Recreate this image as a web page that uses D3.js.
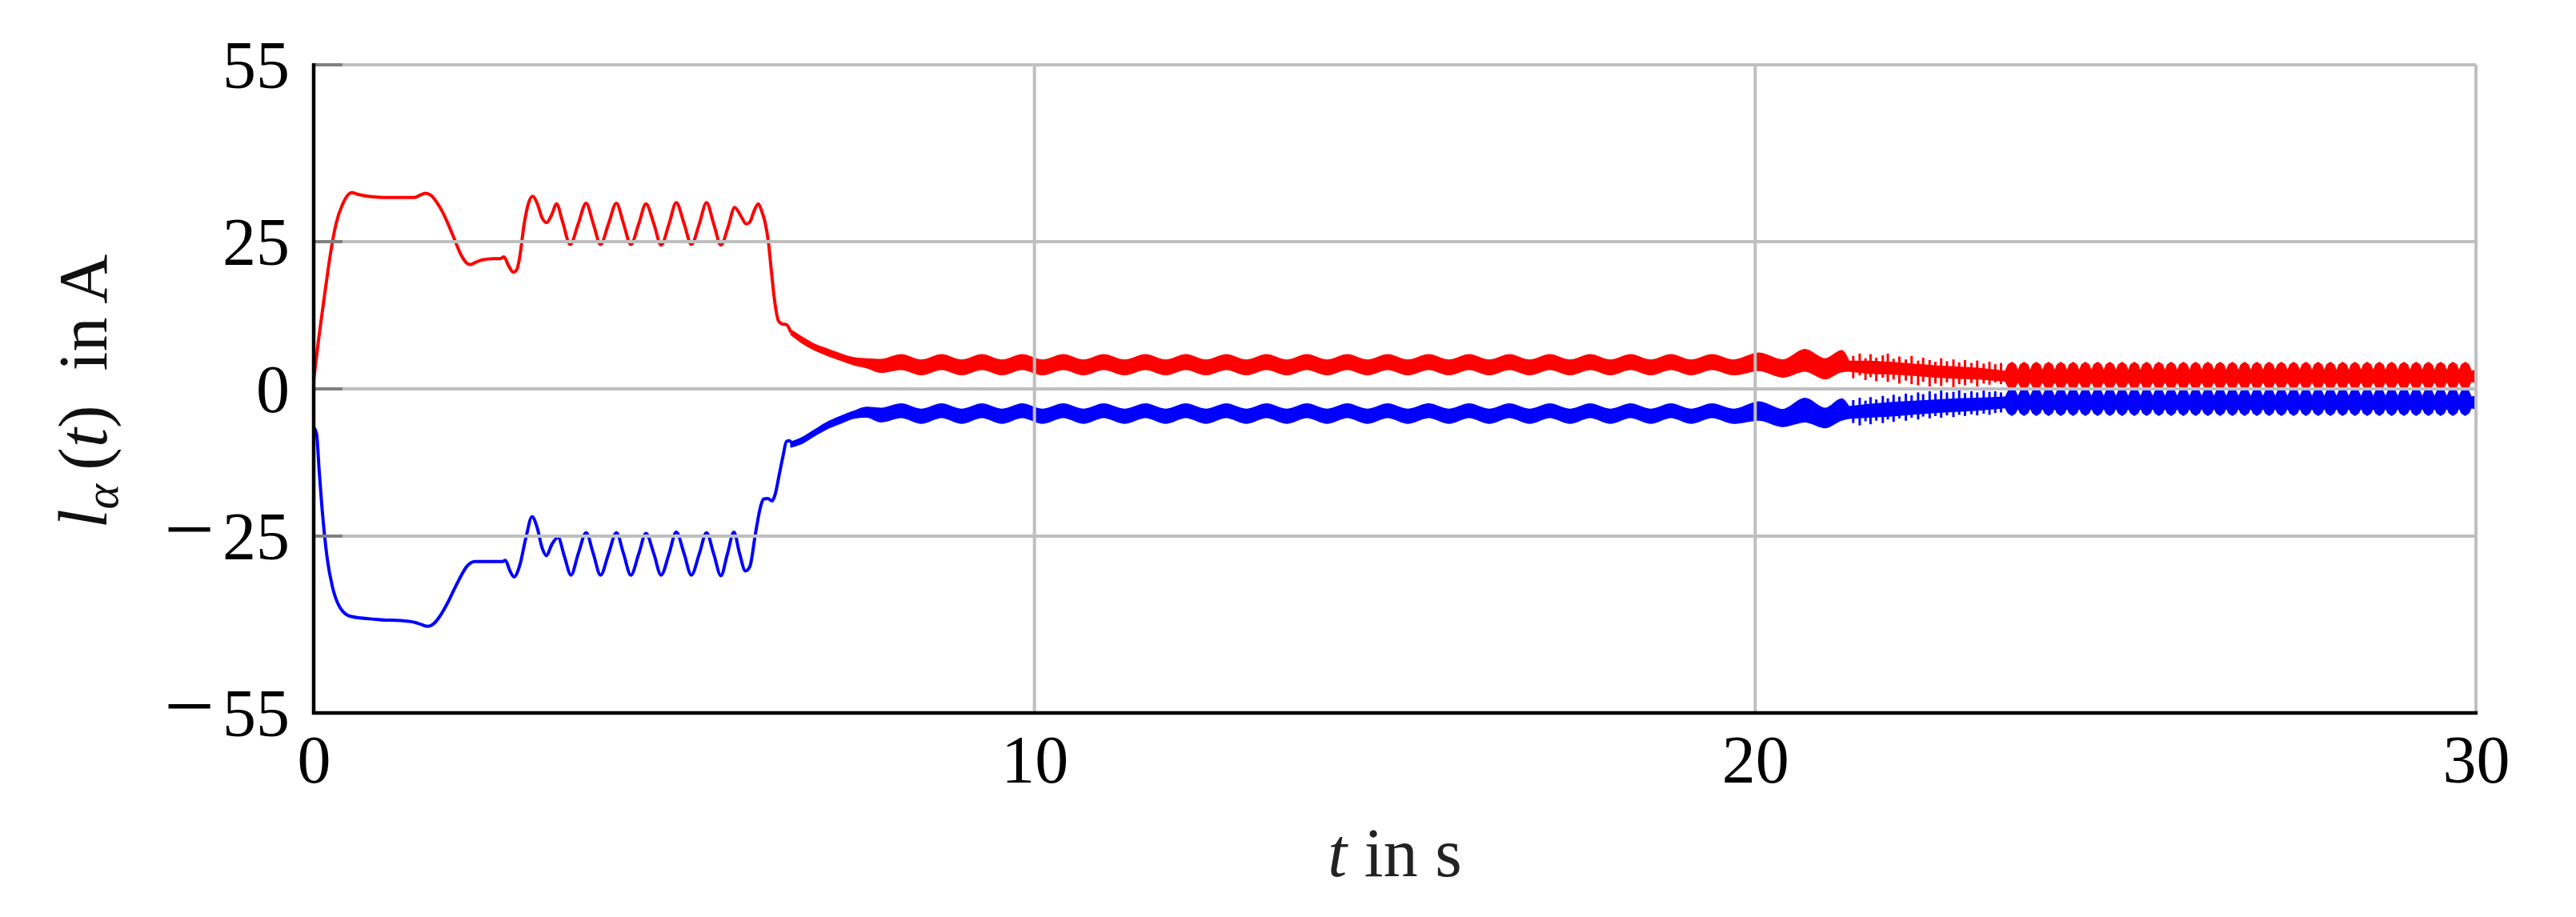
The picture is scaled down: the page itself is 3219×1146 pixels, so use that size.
<!DOCTYPE html>
<html><head><meta charset="utf-8">
<script src="https://cdn.jsdelivr.net/npm/d3@7"></script>
<style>body{margin:0;background:#fff}svg{display:block}</style>
</head><body>
<svg id="chart" width="3219" height="1146"></svg>
<script>
// ---------- tick values ----------
const xTicks = [0, 10, 20, 30];
const yTicks = [-55, -25, 0, 25, 55];

// ---------- smooth start ----------
const redT = [0.00,0.065,0.114,0.164,0.24,0.31,0.41,0.53,0.62,0.75,0.96,1.20,1.40,1.48,1.55,1.62,1.70,1.78,1.85,1.95,2.05,2.12,2.17,2.25,2.34,2.50,2.59,2.64,2.70,2.77,2.82,2.86,2.92,2.98,3.04,3.10,3.17,3.23,3.30,3.37,3.45,3.56,3.67,3.78,3.88,3.98,4.09,4.20,4.30,4.40,4.51,4.61,4.72,4.82,4.93,5.03,5.14,5.24,5.35,5.45,5.55,5.65,5.75,5.84,5.92,6.00,6.05,6.11,6.17,6.22,6.26,6.31,6.35,6.40,6.45,6.50,6.56,6.62];
const redV = [1.5,8.1,12.6,17.1,23.5,28.0,31.6,33.3,33.0,32.7,32.5,32.5,32.5,32.9,33.2,32.9,31.8,30.2,28.4,25.5,22.6,21.4,21.1,21.5,21.9,22.1,22.1,22.4,21.0,19.8,20.3,22.5,28.0,31.5,32.7,31.5,29.0,28.2,29.5,31.4,28.5,24.5,28.0,31.5,28.0,24.5,28.0,31.5,28.0,24.5,28.0,31.4,28.0,24.4,28.0,31.6,28.0,24.5,28.0,31.6,28.0,24.4,27.5,30.8,29.5,28.0,28.3,30.2,31.4,30.0,28.4,24.8,20.0,14.5,11.5,11.0,10.9,9.6];

const blueT = [0.00,0.04,0.075,0.114,0.19,0.26,0.36,0.51,0.85,1.35,1.45,1.58,1.66,1.75,1.85,1.95,2.05,2.12,2.24,2.62,2.66,2.72,2.78,2.86,2.94,3.03,3.10,3.17,3.23,3.30,3.39,3.48,3.57,3.67,3.78,3.88,3.98,4.09,4.20,4.30,4.40,4.51,4.61,4.72,4.82,4.93,5.03,5.14,5.24,5.35,5.45,5.55,5.65,5.74,5.83,5.91,5.99,6.05,6.13,6.20,6.24,6.30,6.36,6.40,6.46,6.51,6.56,6.60,6.65];
const blueV = [-6.5,-7.6,-13.7,-20.0,-29.0,-33.6,-37.0,-38.6,-39.1,-39.5,-39.8,-40.3,-39.9,-38.6,-36.5,-34.0,-31.6,-30.2,-29.3,-29.3,-29.1,-30.8,-31.9,-29.9,-25.5,-21.7,-23.5,-27.0,-28.3,-26.5,-25.2,-28.5,-31.6,-28.0,-24.4,-28.0,-31.6,-28.0,-24.4,-28.0,-31.6,-28.0,-24.5,-28.0,-31.6,-28.0,-24.3,-28.0,-31.6,-28.0,-24.4,-28.0,-31.7,-28.0,-24.3,-28.0,-30.9,-30.2,-24.5,-20.0,-18.7,-18.6,-19.0,-18.0,-14.5,-11.5,-8.9,-8.8,-9.6];

// ---------- dense oscillation, part 1: slow-wave envelope (t 6.62 .. 21.30) ----------
const waveT = [6.62,6.75,6.93,7.12,7.30,7.49,7.67,7.87,
 8.15,8.43,8.71,8.99,9.27,9.55,9.83,10.11,10.40,10.68,10.96,11.25,11.54,11.82,12.10,12.38,12.66,12.94,13.22,13.50,13.78,14.06,14.34,14.62,14.90,15.18,15.47,15.75,16.03,16.31,16.59,16.87,17.15,17.43,17.71,17.99,18.27,18.55,18.83,19.11,19.40,19.70,
 20.05,20.38,20.69,20.97,21.20,21.30];
const waveRedLo = [9.2,8.0,6.7,5.7,4.9,4.1,3.6,2.8,
 3.3,2.4,3.3,2.4,3.3,2.4,3.3,2.4,3.3,2.4,3.3,2.4,3.3,2.4,3.3,2.4,3.3,2.4,3.3,2.4,3.3,2.4,3.3,2.4,3.3,2.4,3.3,2.4,3.3,2.4,3.3,2.4,3.3,2.4,3.3,2.4,3.3,2.4,3.3,2.4,3.3,2.4,
 3.1,2.0,3.0,1.7,2.9,3.0];
const waveRedHi = [10.0,9.0,7.7,6.8,6.0,5.3,5.1,5.0,
 5.8,4.9,5.8,4.9,5.8,4.9,5.8,4.9,5.8,4.9,5.8,4.9,5.8,4.9,5.8,4.9,5.8,4.9,5.8,4.9,5.8,4.9,5.8,4.9,5.8,4.9,5.8,4.9,5.8,4.9,5.8,4.9,5.8,4.9,5.8,4.9,5.8,4.9,5.8,4.9,5.8,4.9,
 6.1,4.9,6.7,5.1,6.5,4.7];
const waveBlueLo = [-9.9,-9.4,-8.1,-6.8,-5.9,-5.0,-4.8,-5.6,
 -4.85,-5.85,-4.85,-5.85,-4.85,-5.85,-4.85,-5.85,-4.85,-5.85,-4.85,-5.85,-4.85,-5.85,-4.85,-5.85,-4.85,-5.85,-4.85,-5.85,-4.85,-5.85,-4.85,-5.85,-4.85,-5.85,-4.85,-5.85,-4.85,-5.85,-4.85,-5.85,-4.85,-5.85,-4.85,-5.85,-4.85,-5.85,-4.85,-5.85,-4.85,-5.85,
 -5.3,-6.4,-5.6,-6.6,-5.3,-5.0];
const waveBlueHi = [-9.0,-8.4,-7.1,-5.7,-4.7,-3.8,-3.1,-3.3,
 -2.55,-3.45,-2.55,-3.45,-2.55,-3.45,-2.55,-3.45,-2.55,-3.45,-2.55,-3.45,-2.55,-3.45,-2.55,-3.45,-2.55,-3.45,-2.55,-3.45,-2.55,-3.45,-2.55,-3.45,-2.55,-3.45,-2.55,-3.45,-2.55,-3.45,-2.55,-3.45,-2.55,-3.45,-2.55,-3.45,-2.55,-3.45,-2.55,-3.45,-2.55,-3.45,
 -2.2,-3.5,-1.6,-3.3,-1.7,-3.0];

// ---------- part 2: irregular section (t 21.30 .. 23.47): core band + single spikes ----------
const coreT = [21.30,21.60,21.90,22.20,22.50,22.80,23.10,23.47];
const coreRedLo = [3.0,2.6,2.5,2.3,2.0,1.8,1.7,1.3];
const coreRedHi = [4.7,4.7,4.5,4.2,3.9,3.7,3.5,3.0];
const coreBlueLo = [-5.0,-4.8,-4.6,-4.3,-4.0,-3.8,-3.6,-3.2];
const coreBlueHi = [-3.0,-2.6,-2.3,-2.1,-1.9,-1.7,-1.6,-1.4];

const spikeT = [21.36,21.45,21.53,21.60,21.68,21.77,21.84,21.92,22.00,22.09,22.17,22.26,22.33,22.42,22.50,22.58,22.66,22.75,22.83,22.91,23.00,23.08,23.17,23.25,23.33,23.41];
const spikeRedHi = [5.6,6.0,5.2,5.9,5.3,5.7,6.0,5.1,5.5,5.0,5.6,4.8,5.3,4.9,4.6,5.2,4.7,5.0,4.5,4.9,4.4,4.8,4.3,4.6,4.2,4.4];
const spikeRedLo = [1.8,2.3,1.5,2.0,1.3,1.9,1.2,1.6,0.9,1.4,0.8,0.6,1.2,0.4,0.9,0.5,1.1,0.3,0.8,0.6,1.0,0.4,0.9,0.7,1.1,0.8];
const spikeBlueHi = [-1.9,-1.5,-2.0,-1.4,-1.8,-1.2,-1.6,-1.0,-1.3,-0.8,-1.1,-0.6,-0.9,-0.4,-0.8,-0.3,-0.6,-0.5,-0.2,-0.7,-0.4,-0.6,-0.3,-0.5,-0.4,-0.6];
const spikeBlueLo = [-5.8,-6.2,-5.5,-6.0,-5.4,-5.8,-5.2,-5.6,-5.0,-5.4,-4.9,-5.2,-4.7,-5.0,-4.6,-4.9,-4.5,-4.8,-4.4,-4.6,-4.3,-4.5,-4.2,-4.4,-4.1,-4.0];

// ---------- part 3: beat "teeth" (t 23.47 .. 30) ----------
const tailT = [23.47,
 23.51,23.56,23.61,23.645, 23.68,23.73,23.78,23.815, 23.85,23.90,23.95,23.985, 24.02,24.07,24.12,24.155, 24.19,24.24,24.29,24.325,
 24.36,24.41,24.46,24.495, 24.53,24.58,24.63,24.665, 24.70,24.75,24.80,24.835, 24.87,24.92,24.97,25.005, 25.04,25.09,25.14,25.175,
 25.21,25.26,25.31,25.345, 25.38,25.43,25.48,25.515, 25.55,25.60,25.65,25.685, 25.72,25.77,25.82,25.855, 25.89,25.94,25.99,26.025,
 26.06,26.11,26.16,26.195, 26.23,26.28,26.33,26.365, 26.40,26.45,26.50,26.535, 26.57,26.62,26.67,26.705, 26.74,26.79,26.84,26.875,
 26.91,26.96,27.01,27.045, 27.08,27.13,27.18,27.215, 27.25,27.30,27.35,27.385, 27.42,27.47,27.52,27.555, 27.59,27.64,27.69,27.725,
 27.76,27.81,27.86,27.895, 27.93,27.98,28.03,28.065, 28.10,28.15,28.20,28.235, 28.27,28.32,28.37,28.405, 28.44,28.49,28.54,28.575,
 28.61,28.66,28.71,28.745, 28.78,28.83,28.88,28.915, 28.95,29.00,29.05,29.085, 29.12,29.17,29.22,29.255, 29.29,29.34,29.39,29.425,
 29.46,29.51,29.56,29.595, 29.63,29.68,29.73,29.765, 29.80,29.85,29.90,29.935,
 30.0];
const tailRedLo = [1.3,
 0.4,0.0,0.4,1.3, 0.4,0.0,0.4,1.3, 0.4,0.0,0.4,1.3, 0.4,0.0,0.4,1.3, 0.4,0.0,0.4,1.3,
 0.4,0.0,0.4,1.3, 0.4,0.0,0.4,1.3, 0.4,0.0,0.4,1.3, 0.4,0.0,0.4,1.3, 0.4,0.0,0.4,1.3,
 0.4,0.0,0.4,1.3, 0.4,0.0,0.4,1.3, 0.4,0.0,0.4,1.3, 0.4,0.0,0.4,1.3, 0.4,0.0,0.4,1.3,
 0.4,0.0,0.4,1.3, 0.4,0.0,0.4,1.3, 0.4,0.0,0.4,1.3, 0.4,0.0,0.4,1.3, 0.4,0.0,0.4,1.3,
 0.4,0.0,0.4,1.3, 0.4,0.0,0.4,1.3, 0.4,0.0,0.4,1.3, 0.4,0.0,0.4,1.3, 0.4,0.0,0.4,1.3,
 0.4,0.0,0.4,1.3, 0.4,0.0,0.4,1.3, 0.4,0.0,0.4,1.3, 0.4,0.0,0.4,1.3, 0.4,0.0,0.4,1.3,
 0.4,0.0,0.4,1.3, 0.4,0.0,0.4,1.3, 0.4,0.0,0.4,1.3, 0.4,0.0,0.4,1.3, 0.4,0.0,0.4,1.3,
 0.4,0.0,0.4,1.3, 0.4,0.0,0.4,1.3, 0.4,0.0,0.4,1.3,
 1.0];
const tailRedHi = [3.0,
 4.1,4.5,4.1,3.0, 4.1,4.5,4.1,3.0, 4.1,4.5,4.1,3.0, 4.1,4.5,4.1,3.0, 4.1,4.5,4.1,3.0,
 4.1,4.5,4.1,3.0, 4.1,4.5,4.1,3.0, 4.1,4.5,4.1,3.0, 4.1,4.5,4.1,3.0, 4.1,4.5,4.1,3.0,
 4.1,4.5,4.1,3.0, 4.1,4.5,4.1,3.0, 4.1,4.5,4.1,3.0, 4.1,4.5,4.1,3.0, 4.1,4.5,4.1,3.0,
 4.1,4.5,4.1,3.0, 4.1,4.5,4.1,3.0, 4.1,4.5,4.1,3.0, 4.1,4.5,4.1,3.0, 4.1,4.5,4.1,3.0,
 4.1,4.5,4.1,3.0, 4.1,4.5,4.1,3.0, 4.1,4.5,4.1,3.0, 4.1,4.5,4.1,3.0, 4.1,4.5,4.1,3.0,
 4.1,4.5,4.1,3.0, 4.1,4.5,4.1,3.0, 4.1,4.5,4.1,3.0, 4.1,4.5,4.1,3.0, 4.1,4.5,4.1,3.0,
 4.1,4.5,4.1,3.0, 4.1,4.5,4.1,3.0, 4.1,4.5,4.1,3.0, 4.1,4.5,4.1,3.0, 4.1,4.5,4.1,3.0,
 4.1,4.5,4.1,3.0, 4.1,4.5,4.1,3.0, 4.1,4.5,4.1,3.0,
 3.2];
const tailBlueLo = [-3.2,
 -4.1,-4.5,-4.1,-3.2, -4.1,-4.5,-4.1,-3.2, -4.1,-4.5,-4.1,-3.2, -4.1,-4.5,-4.1,-3.2, -4.1,-4.5,-4.1,-3.2,
 -4.1,-4.5,-4.1,-3.2, -4.1,-4.5,-4.1,-3.2, -4.1,-4.5,-4.1,-3.2, -4.1,-4.5,-4.1,-3.2, -4.1,-4.5,-4.1,-3.2,
 -4.1,-4.5,-4.1,-3.2, -4.1,-4.5,-4.1,-3.2, -4.1,-4.5,-4.1,-3.2, -4.1,-4.5,-4.1,-3.2, -4.1,-4.5,-4.1,-3.2,
 -4.1,-4.5,-4.1,-3.2, -4.1,-4.5,-4.1,-3.2, -4.1,-4.5,-4.1,-3.2, -4.1,-4.5,-4.1,-3.2, -4.1,-4.5,-4.1,-3.2,
 -4.1,-4.5,-4.1,-3.2, -4.1,-4.5,-4.1,-3.2, -4.1,-4.5,-4.1,-3.2, -4.1,-4.5,-4.1,-3.2, -4.1,-4.5,-4.1,-3.2,
 -4.1,-4.5,-4.1,-3.2, -4.1,-4.5,-4.1,-3.2, -4.1,-4.5,-4.1,-3.2, -4.1,-4.5,-4.1,-3.2, -4.1,-4.5,-4.1,-3.2,
 -4.1,-4.5,-4.1,-3.2, -4.1,-4.5,-4.1,-3.2, -4.1,-4.5,-4.1,-3.2, -4.1,-4.5,-4.1,-3.2, -4.1,-4.5,-4.1,-3.2,
 -4.1,-4.5,-4.1,-3.2, -4.1,-4.5,-4.1,-3.2, -4.1,-4.5,-4.1,-3.2,
 -3.4];
const tailBlueHi = [-1.4,
 -0.4,0.0,-0.4,-1.4, -0.4,0.0,-0.4,-1.4, -0.4,0.0,-0.4,-1.4, -0.4,0.0,-0.4,-1.4, -0.4,0.0,-0.4,-1.4,
 -0.4,0.0,-0.4,-1.4, -0.4,0.0,-0.4,-1.4, -0.4,0.0,-0.4,-1.4, -0.4,0.0,-0.4,-1.4, -0.4,0.0,-0.4,-1.4,
 -0.4,0.0,-0.4,-1.4, -0.4,0.0,-0.4,-1.4, -0.4,0.0,-0.4,-1.4, -0.4,0.0,-0.4,-1.4, -0.4,0.0,-0.4,-1.4,
 -0.4,0.0,-0.4,-1.4, -0.4,0.0,-0.4,-1.4, -0.4,0.0,-0.4,-1.4, -0.4,0.0,-0.4,-1.4, -0.4,0.0,-0.4,-1.4,
 -0.4,0.0,-0.4,-1.4, -0.4,0.0,-0.4,-1.4, -0.4,0.0,-0.4,-1.4, -0.4,0.0,-0.4,-1.4, -0.4,0.0,-0.4,-1.4,
 -0.4,0.0,-0.4,-1.4, -0.4,0.0,-0.4,-1.4, -0.4,0.0,-0.4,-1.4, -0.4,0.0,-0.4,-1.4, -0.4,0.0,-0.4,-1.4,
 -0.4,0.0,-0.4,-1.4, -0.4,0.0,-0.4,-1.4, -0.4,0.0,-0.4,-1.4, -0.4,0.0,-0.4,-1.4, -0.4,0.0,-0.4,-1.4,
 -0.4,0.0,-0.4,-1.4, -0.4,0.0,-0.4,-1.4, -0.4,0.0,-0.4,-1.4,
 -1.2];

const redColor = "#ff0000", blueColor = "#0000ff";

// ---------- layout ----------
const L = 392, R = 3094, T = 81, B = 891;
const svg = d3.select("#chart");
const x = d3.scaleLinear().domain([0, 30]).range([L, R]);
const y = d3.scaleLinear().domain([-55, 55]).range([B, T]);
const FONT = "'Liberation Serif','DejaVu Serif',serif";

const plot = svg.append("g");
const line = d3.line().x(d => x(d[0])).y(d => y(d[1])).curve(d3.curveMonotoneX);
const smoothArea = d3.area().x(d => x(d.t)).y0(d => y(d.lo)).y1(d => y(d.hi)).curve(d3.curveMonotoneX);
const sharpArea = d3.area().x(d => x(d.t)).y0(d => y(d.lo)).y1(d => y(d.hi)).curve(d3.curveLinear);

function band(tArr, lo, hi) { return tArr.map((t, i) => ({t, lo: lo[i], hi: hi[i]})); }

function series(tArr, vArr, bands, spikes, color) {
  plot.append("path").datum(tArr.map((t, i) => [t, vArr[i]]))
    .attr("d", line).attr("fill", "none").attr("stroke", color)
    .attr("stroke-width", 4).attr("stroke-linejoin", "round");
  bands.forEach(([data, gen]) => {
    plot.append("path").datum(data).attr("d", gen)
      .attr("fill", color).attr("stroke", color).attr("stroke-width", 1.4)
      .attr("stroke-linejoin", "round");
  });
  plot.append("g").selectAll("line").data(spikes).join("line")
    .attr("x1", d => x(d.t)).attr("x2", d => x(d.t))
    .attr("y1", d => y(d.lo)).attr("y2", d => y(d.hi))
    .attr("stroke", color).attr("stroke-width", 3);
}
series(redT, redV,
  [[band(waveT, waveRedLo, waveRedHi), smoothArea], [band(coreT, coreRedLo, coreRedHi), sharpArea], [band(tailT, tailRedLo, tailRedHi), sharpArea]],
  band(spikeT, spikeRedLo, spikeRedHi), redColor);
series(blueT, blueV,
  [[band(waveT, waveBlueLo, waveBlueHi), smoothArea], [band(coreT, coreBlueLo, coreBlueHi), sharpArea], [band(tailT, tailBlueLo, tailBlueHi), sharpArea]],
  band(spikeT, spikeBlueLo, spikeBlueHi), blueColor);

// ---------- grid (drawn on top, as in the reference) ----------
const grid = svg.append("g");
grid.selectAll("line.gy").data(yTicks).join("line")
  .attr("x1", L).attr("x2", R).attr("y1", d => y(d)).attr("y2", d => y(d))
  .attr("stroke", "#bfbfbf").attr("stroke-width", 4);
grid.selectAll("line.gx").data(xTicks.slice(1)).join("line")
  .attr("x1", d => x(d)).attr("x2", d => x(d)).attr("y1", T).attr("y2", B)
  .attr("stroke", "#bfbfbf").attr("stroke-width", 4);
grid.selectAll("line.ty").data(yTicks.filter(d => d !== -55)).join("line")
  .attr("x1", L).attr("x2", L + 36).attr("y1", d => y(d)).attr("y2", d => y(d))
  .attr("stroke", "#808080").attr("stroke-width", 4);

// ---------- axis lines ----------
svg.append("line").attr("x1", L).attr("x2", L).attr("y1", T - 2).attr("y2", B + 2)
  .attr("stroke", "#000").attr("stroke-width", 4.5);
svg.append("line").attr("x1", L - 2).attr("x2", R + 2).attr("y1", B).attr("y2", B)
  .attr("stroke", "#000").attr("stroke-width", 4.5);

// ---------- tick labels via d3 axes ----------
const yAxis = d3.axisLeft(y).tickValues(yTicks).tickFormat(d => String(Math.abs(d))).tickSize(0).tickPadding(30);
const gy = svg.append("g").attr("transform", `translate(${L},0)`).call(yAxis);
gy.select(".domain").remove();
gy.selectAll("text").attr("font-family", FONT).attr("font-size", 84).attr("fill", "#000").attr("dy", "0.34em")
  .each(function(d) {
    if (d < 0) {
      const t = d3.select(this), num = t.text();
      t.text(null);
      t.append("tspan").attr("font-size", 112).text("\u2212");
      t.append("tspan").attr("dx", 10).text(num);
    }
  });

const xAxis = d3.axisBottom(x).tickValues(xTicks).tickFormat(d => String(d)).tickSize(0).tickPadding(0);
const gx = svg.append("g").attr("transform", `translate(0,${B})`).call(xAxis);
gx.select(".domain").remove();
gx.selectAll("text").attr("font-family", FONT).attr("font-size", 84).attr("fill", "#000").attr("dy", null).attr("y", 87);

// ---------- axis titles ----------
const xl = svg.append("text").attr("x", (L + R) / 2).attr("y", 1095).attr("text-anchor", "middle")
  .attr("font-family", FONT).attr("font-size", 86).attr("fill", "#222");
xl.append("tspan").attr("font-style", "italic").text("t");
xl.append("tspan").text(" in s");

const yl = svg.append("text").attr("transform", "translate(133,489) rotate(-90)")
  .attr("text-anchor", "middle").attr("font-family", FONT).attr("font-size", 86).attr("fill", "#111");
yl.append("tspan").attr("font-style", "italic").text("l");
yl.append("tspan").attr("font-style", "italic").attr("font-size", 60).attr("dy", 14).text("\u03b1");
yl.append("tspan").attr("dy", -14).text("\u2009(");
yl.append("tspan").attr("font-style", "italic").text("t");
yl.append("tspan").text(")\u2002in A");
</script>
</body></html>
